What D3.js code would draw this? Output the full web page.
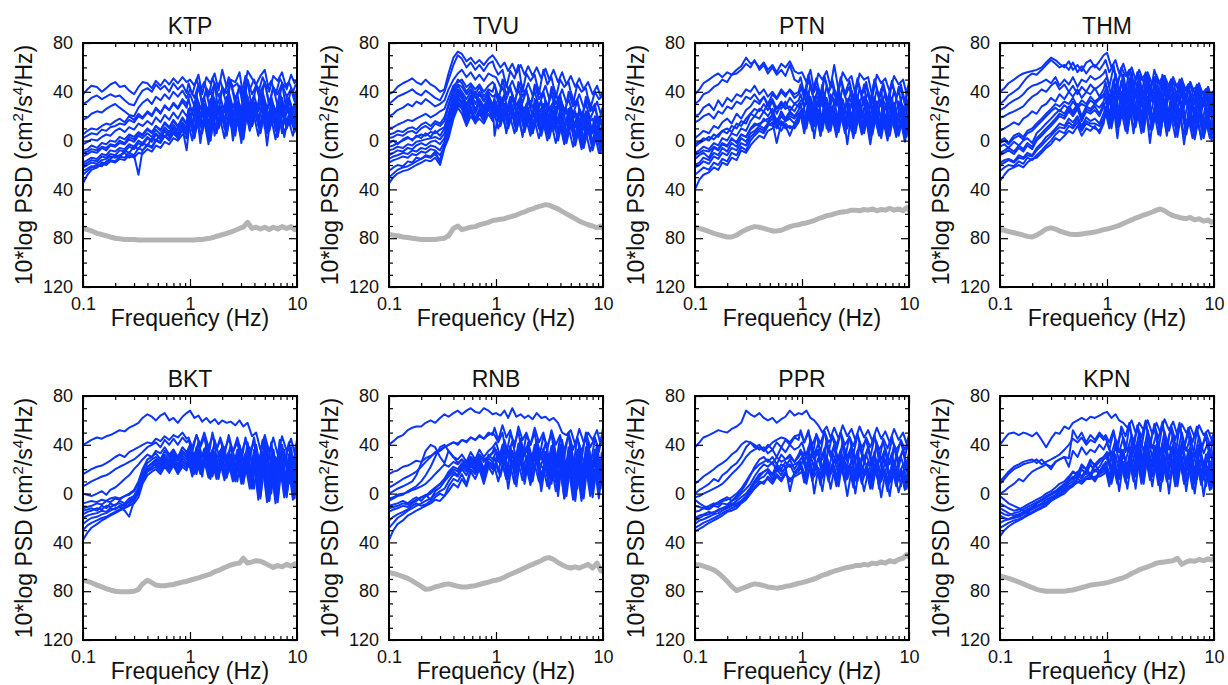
<!DOCTYPE html>
<html><head><meta charset="utf-8">
<script src="https://cdn.jsdelivr.net/npm/d3@7"></script>
<style>body{margin:0;background:#fff}</style>
</head><body>
<svg id="chart" width="1228" height="685"></svg>
<script>
// Frequency grids (Hz): lines alternate between the two sampling grids
const freqHz = [0.1,0.11,0.12,0.135,0.15,0.165,0.18,0.2,0.22,0.245,0.27,0.3,0.33,0.36,0.4,0.44,0.48,0.53,0.58,0.64,0.7,0.77,0.85,0.93,1.0,1.1,1.2,1.3,1.42,1.55,1.7,1.85,2.0,2.2,2.4,2.65,2.9,3.15,3.45,3.8,4.15,4.55,5.0,5.5,6.0,6.6,7.25,8.0,8.8,9.5,10];
const freqHzAlt = [0.1,0.11,0.12,0.135,0.15,0.165,0.18,0.2,0.22,0.245,0.27,0.3,0.33,0.36,0.4,0.44,0.48,0.53,0.58,0.64,0.7,0.77,0.85,0.93,0.97,1.05,1.15,1.25,1.36,1.49,1.62,1.77,1.92,2.1,2.3,2.52,2.77,3.02,3.3,3.62,3.97,4.35,4.77,5.25,5.75,6.3,6.92,7.6,8.4,9.15,9.75];

const stationNames = ["KTP","TVU","PTN","THM","BKT","RNB","PPR","KPN"];

const yTickValues = [80, 40, 0, -40, -80, -120];
const yTickLabels = ["80","40","0","40","80","120"];
const xTickValues = [0.1, 1, 10];
const xTickLabels = ["0.1","1","10"];
const xMinorValues = [0.2,0.3,0.4,0.5,0.6,0.7,0.8,0.9,2,3,4,5,6,7,8,9];
const yMinorValues = [70,60,50,30,20,10,-10,-20,-30,-50,-60,-70,-90,-100,-110];

// ---- KTP ----
const ktpSpectra = [
[38,42,45,44,40,43,46,48,44,45,41,38,44,48,47,43,49,45,50,46,51,47,52,48, 50,45,54,38,52,47,55,41,58,44,50,48,56,36,57,51,46,53,58,40,53,49,56,42,54,47,50],
[30,32,35,37,34,36,38,36,37,33,30,29,36,41,43,40,46,42,45,40,47,42,46,39, 47,38,50,41,48,36,51,43,49,38,52,44,47,37,53,42,50,39,52,43,49,37,51,44,48,40,46],
[17,19,22,24,23,26,28,30,27,24,21,20,27,31,34,30,36,33,38,34,40,36,41,35, 42,35,46,28,43,38,47,22,44,39,48,30,45,37,49,25,46,40,48,29,44,38,47,24,43,36,42],
[5,8,10,9,12,14,13,16,18,15,20,17,22,19,24,21,27,23,28,25,30,26,32,27, 34,22,37,26,35,20,39,28,36,23,40,27,38,21,41,29,37,24,40,26,36,22,39,27,35,25,33],
[-3,-1,1,0,3,5,4,8,10,7,11,9,14,12,16,13,19,15,21,17,23,18,25,20, 27,18,31,6,28,22,34,14,29,24,33,4,30,20,36,12,31,25,33,8,29,21,35,10,28,22,26],
[-8,-7,-4,-6,-2,-3,0,-1,3,1,5,3,7,5,10,7,12,9,14,10,16,11,18,13, 25,13,29,17,27,11,31,19,28,14,33,18,30,12,34,20,31,15,33,17,29,13,32,19,27,16,25],
[-13,-11,-9,-10,-6,-8,-4,-5,-2,-3,1,-1,4,2,6,3,9,5,11,7,13,8,15,10, 22,9,26,14,24,7,28,16,25,10,30,15,27,8,31,17,28,12,30,14,26,10,29,16,24,13,22],
[-18,-16,-14,-15,-11,-12,-8,-9,-6,-7,-3,-5,0,-2,3,0,6,2,9,4,11,5,13,7, 20,12,24,-2,22,15,26,6,23,14,30,0,25,16,29,8,26,17,28,-4,24,12,27,3,22,14,20],
[-22,-20,-18,-19,-16,-15,-13,-14,-12,-10,-14,-12,-28,-8,-4,-6,0,-2,4,1,7,2,10,-8, 18,3,22,9,20,0,24,11,21,5,26,10,23,2,27,13,24,7,26,9,22,4,25,11,20,8,18],
[-35,-28,-24,-22,-19,-20,-17,-18,-15,-16,-12,-14,-10,-11,-7,-9,-4,-6,-1,-3,2,0,5,2, 14,0,18,5,16,-3,20,7,17,2,22,6,19,-2,23,9,20,4,22,6,18,1,21,7,16,4,14],
[-28,-25,-22,-20,-21,-17,-15,-12,-14,-8,-10,-5,-7,-2,-4,2,0,5,3,8,6,10,8,12, 16,2,20,8,18,0,22,10,19,4,24,9,21,1,25,12,22,6,24,8,20,3,23,10,18,7,16],
[-10,-9,-7,-8,-5,-6,-3,-4,0,-2,3,1,6,4,9,6,12,8,15,11,17,12,19,14, 26,12,34,20,30,8,36,24,28,16,38,10,32,22,40,14,30,26,36,6,33,20,38,16,31,24,28],
[-20,-18,-16,-17,-13,-14,-11,-12,-8,-9,-5,-7,-2,-4,2,-1,5,1,8,3,10,4,12,6, 18,30,10,28,14,34,4,26,20,36,12,30,8,38,16,32,22,40,10,34,18,28,6,36,14,30,20],
[-25,-23,-21,-22,-18,-19,-16,-17,-13,-14,-10,-12,-6,-8,-3,-5,1,-1,4,0,6,2,9,4, 22,8,28,16,24,2,30,20,26,10,32,18,28,4,34,22,27,12,32,16,28,8,30,20,25,12,22],
[2,4,6,5,9,8,11,12,14,13,17,15,20,18,23,20,26,22,29,25,31,27,34,30, 38,28,44,32,40,24,46,36,42,30,48,34,44,26,50,38,45,32,48,30,44,28,46,36,42,32,40]
];
const ktpNoise = [-72,-73,-74,-76,-77,-78,-79,-80,-80.5,-81,-81,-81,-81.5,-81.5,-81.5,-81.5,-81.5,-81.5,-81.5,-81.5,-81.5,-81.5,-81.5,-81.5,
-81.5,-81.5,-81,-81,-80.5,-80,-79,-78,-77,-76,-75,-73.5,-72,-71,-67,-72,-71,-72.5,-71,-73,-71,-72.5,-70.5,-72,-70.5,-73,-71];

// ---- TVU ----
const tvuSpectra = [
[38,40,44,47,49,51,48,46,50,46,44,40,42,55, 68,73,71,65,68,63,66,62,67,70, 66,60,64,57,63,55,62,54,61,53,60,51,59,50,58,48,56,46,53,44,51,42,48,38,45,36,40],
[30,33,36,38,40,42,39,37,41,38,35,33,40,50, 62,70,67,60,64,58,62,57,63,65, 60,54,58,44,57,51,62,40,55,49,54,38,58,46,52,35,50,44,48,30,46,40,43,26,40,34,36],
[20,22,25,27,30,28,32,30,34,31,28,30,33,42, 50,55,58,52,56,50,54,49,55,53, 52,44,50,42,49,40,48,39,47,37,46,36,45,34,44,33,42,31,40,29,38,27,35,24,32,22,28],
[10,11,13,15,17,16,18,20,22,19,21,24,26,35, 45,48,50,44,47,42,46,40,45,48, 46,36,44,34,43,32,42,31,41,30,40,28,39,27,38,25,36,24,34,22,32,20,30,18,27,15,24],
[2,3,5,4,7,8,6,10,12,9,14,12,16,28, 40,46,44,38,42,35,40,33,38,28, 40,30,38,16,37,29,36,12,35,27,34,8,33,26,32,6,30,22,28,2,26,19,24,-4,21,14,18],
[-5,-4,-2,0,2,1,3,5,4,7,6,9,11,22, 35,42,38,30,37,25,34,28,36,30, 4,22,33,20,32,18,31,17,30,16,29,14,28,12,27,11,25,9,23,7,21,5,19,2,16,0,13],
[-12,-10,-8,-9,-6,-7,-4,-2,-4,-1,0,-3,2,15, 30,38,35,25,33,22,31,24,33,30, 32,18,30,16,29,14,28,13,27,12,26,10,25,8,24,7,22,5,20,3,18,1,15,-2,12,-5,9],
[-18,-16,-15,-13,-14,-11,-12,-9,-10,-7,-8,-12,-5,8, 25,35,30,20,28,18,26,20,30,22, 28,18,26,6,25,17,24,3,23,16,22,10,21,5,20,14,18,-2,16,10,14,-5,12,6,9,-2,6],
[-25,-22,-20,-21,-17,-18,-14,-15,-12,-13,-9,-18,-3,5, 20,30,26,15,24,14,22,16,26,18, 25,12,23,10,22,8,21,7,20,6,19,4,18,2,17,0,15,-2,13,-4,11,-6,9,-8,6,-10,4],
[-35,-30,-27,-25,-24,-22,-20,-18,-16,-17,-14,-20,-6,2, 18,27,22,12,20,15,18,14,22,16, 22,10,20,8,19,6,18,5,17,4,16,2,15,0,14,-2,13,-3,11,-5,9,-7,7,-9,5,-10,3],
[-2,0,-3,1,3,0,4,2,6,3,8,4,10,20, 38,45,40,34,40,30,38,32,40,36, 38,26,36,24,35,22,34,21,33,20,32,18,31,16,30,15,28,13,26,11,24,9,22,6,19,4,16],
[-8,-7,-5,-6,-3,-4,-1,0,1,2,3,1,6,18, 32,40,36,28,35,24,33,26,35,20, 34,18,30,24,36,12,32,26,28,8,34,22,30,14,27,20,32,6,26,18,22,10,24,2,20,12,18],
[-15,-13,-12,-10,-11,-8,-9,-6,-7,-4,-5,-8,-1,12, 28,36,32,22,30,40,28,22,32,26, 20,36,26,14,38,24,30,10,34,28,22,32,16,28,8,30,20,26,12,24,4,22,14,18,6,16,10],
[5,6,8,7,10,11,9,13,15,12,16,14,19,30, 42,50,47,40,45,38,44,36,42,40, 46,32,50,38,44,28,48,36,42,26,46,34,40,24,44,30,38,20,40,28,34,16,36,24,30,12,26],
[-30,-27,-24,-22,-21,-19,-17,-15,-13,-14,-11,-16,-4,4, 22,32,28,18,26,16,24,18,28,24, 26,14,30,20,24,8,28,18,22,6,26,16,20,4,24,14,18,0,20,12,16,-4,18,8,12,-6,10]
];
const tvuNoise = [-77,-77.5,-78,-79,-79.5,-80,-80.5,-81,-81,-81,-81,-80.5,-80,-78,-72,-70,-73,-72,-71,-70.5,
-69,-68,-67,-65.5,-65,-64.5,-64,-63,-62,-61,-59.5,-58.5,-57,-56,-54.5,-53.5,-52.5,-53,-54.5,-56,
-58,-60,-62,-64,-66,-67.5,-69,-70,-71.5,-70,-72];

// ---- PTN ----
const ptnSpectra = [
[38,42,47,50,53,55,52,56,54,58,61,68,63,65,60,64,58,62,56,63,60,65,57,55, 56,48,58,40,55,50,57,44,62,41,56,49,53,38,55,50,52,36,54,47,51,40,53,46,50,38,48],
[30,33,38,40,44,46,50,48,54,55,58,63,60,66,58,62,55,60,54,58,53,62,50,48, 52,38,54,40,51,36,53,39,50,35,52,38,49,34,51,37,48,33,50,36,47,32,49,35,46,31,44],
[20,22,27,30,25,33,28,35,32,38,36,42,40,45,38,42,36,40,35,42,38,41,35,38, 44,30,46,32,43,28,45,31,42,27,44,30,41,26,43,29,40,25,42,28,39,24,41,27,38,23,36],
[2,5,8,6,12,10,15,18,14,22,18,25,28,33,30,36,28,34,26,32,28,35,30,33, 38,28,40,16,37,30,39,20,36,29,38,12,35,28,37,18,34,27,36,10,33,26,35,15,32,24,30],
[-5,-2,0,3,1,5,8,6,12,10,16,14,22,26,24,30,25,32,22,30,26,28,24,30, 34,18,36,20,33,16,35,19,32,15,34,18,31,14,33,17,30,13,32,16,29,12,31,15,28,11,26],
[-10,-8,-5,-7,-2,-4,2,0,6,4,10,8,16,20,18,24,20,26,15,24,18,22,20,25, 30,12,32,14,29,10,31,13,28,9,30,12,27,8,29,11,26,7,28,10,25,6,27,9,24,5,22],
[-15,-12,-10,-14,-6,-8,-3,-5,2,-2,5,3,10,14,12,18,15,22,12,20,16,18,14,20, 26,14,28,2,25,16,27,8,24,15,26,-3,23,14,25,6,22,13,24,2,21,12,23,4,20,10,18],
[-20,-18,-14,-16,-10,-12,-6,-9,-2,-5,2,-1,6,8,12,10,14,18,10,16,12,4,14,18, 22,6,24,8,21,4,23,7,20,3,22,6,19,2,21,5,18,-3,20,4,17,0,19,3,16,-1,14],
[-28,-25,-22,-24,-18,-20,-15,-17,-10,-12,-5,-8,0,4,8,6,12,15,-2,14,10,12,10,15, 25,10,27,12,24,8,26,11,23,7,25,10,22,6,24,9,21,5,23,8,20,4,22,7,19,3,17],
[-40,-32,-28,-26,-22,-24,-18,-20,-14,-16,-8,-10,-4,0,4,2,8,10,12,8,14,10,12,16, 23,9,25,11,22,7,24,10,21,6,23,9,20,5,22,8,19,4,21,7,18,3,20,6,17,2,15],
[-3,-1,2,0,5,3,8,10,7,14,12,18,22,20,26,24,30,22,28,26,32,24,30,28, 30,42,20,36,28,46,16,38,30,44,22,34,12,40,28,46,20,36,26,42,14,38,24,44,18,34,26],
[-12,-10,-8,-9,-5,-7,-2,-4,1,-1,5,3,9,12,14,16,18,20,16,22,18,24,20,22, 24,10,32,18,28,4,34,20,26,12,36,16,30,6,32,22,27,10,34,14,28,8,30,18,24,12,20],
[-22,-20,-17,-19,-13,-15,-10,-12,-6,-8,-2,-4,3,6,10,8,14,12,18,14,16,20,18,22, 20,34,14,30,22,36,10,28,24,38,16,32,8,30,20,36,12,28,18,34,10,26,16,32,12,24,18],
[15,17,20,22,18,24,22,28,26,32,30,36,34,38,32,36,30,38,34,40,36,42,38,40, 46,34,50,38,44,30,52,40,46,32,50,36,44,28,48,38,45,30,50,34,44,28,46,36,42,30,40]
];
const ptnNoise = [-71,-72,-73,-74.5,-76,-77,-78,-79,-79,-77.5,-75,-73,-71.5,-70.5,-71,-72,-73,-74,-74,-73.5,
-72,-70.5,-69.5,-69,-68,-67.5,-66.5,-65.5,-64,-63,-61.5,-61,-60,-59,-58.5,-58,-57,-57,-57.5,-56.5,
-57,-56,-57.5,-56.5,-57,-55.5,-57,-56,-57.5,-55,-57];

// ---- THM ----
const thmSpectra = [
[40,43,47,50,53,55,56,57,58,60,64,68,66,63,60,65,58,62,57,64,66,60,65,70, 72,60,66,55,63,52,60,50,58,48,56,46,54,45,53,44,52,43,50,41,48,39,46,37,44,35,42],
[30,33,37,40,43,48,52,55,54,58,62,66,63,60,62,58,64,56,61,55,60,62,58,63, 66,56,62,44,60,53,58,40,56,50,55,36,58,47,52,34,50,45,48,30,46,42,44,28,42,37,40],
[19,20,22,24,26,28,32,36,38,42,40,45,48,42,46,40,45,38,44,40,46,42,45,48, 52,36,55,38,54,35,56,37,53,34,55,36,52,33,53,35,50,32,51,33,48,30,47,29,44,27,40],
[8,10,12,15,13,18,20,24,22,28,30,35,32,38,34,40,36,42,35,40,38,43,36,42, 48,30,50,32,49,29,51,31,48,28,50,30,47,27,48,29,45,26,46,27,43,24,42,23,40,21,36],
[0,2,-2,4,6,3,8,10,14,18,22,26,30,28,32,30,35,28,33,30,36,32,35,38, 44,28,46,12,45,30,47,18,44,28,46,10,43,27,44,14,41,26,42,6,39,24,38,9,36,20,32],
[-5,-3,-6,-1,-4,0,2,-2,6,10,14,18,22,25,22,28,24,30,20,28,26,30,27,32, 38,18,40,20,39,17,41,19,38,16,40,18,37,15,38,17,35,14,36,15,33,12,32,11,30,9,26],
[-12,-10,-8,-11,-6,-9,-4,-7,0,4,8,12,16,20,18,24,20,26,16,24,22,25,20,28, 34,14,36,16,35,12,37,15,34,11,36,13,33,10,34,12,31,8,32,10,29,6,28,5,26,3,22],
[-18,-16,-15,-17,-12,-14,-10,-12,-6,-2,3,6,10,14,12,18,15,20,12,19,16,18,14,22, 28,15,30,2,29,16,31,6,28,14,30,-2,27,13,28,4,25,12,26,-3,23,10,22,1,20,8,16],
[-25,-22,-20,-21,-17,-19,-14,-16,-12,-8,-4,0,5,8,6,12,10,15,8,14,12,10,8,16, 26,10,28,12,27,8,29,11,26,7,28,9,25,6,26,8,23,3,24,5,21,1,20,2,18,0,16],
[-33,-28,-24,-22,-20,-22,-18,-15,-14,-10,-6,-3,2,0,4,8,6,12,4,10,8,12,6,14, 24,10,26,11,25,8,27,10,24,6,26,9,23,5,24,7,21,3,22,5,19,2,18,3,16,2,14],
[-2,0,-3,2,4,1,6,8,12,16,20,24,27,24,29,26,32,27,30,28,33,30,34,36, 40,26,46,34,42,20,48,36,44,24,50,32,44,18,46,34,40,22,44,30,38,16,40,28,36,20,34],
[-10,-8,-6,-9,-4,-7,-2,-5,2,6,10,14,18,22,20,26,22,28,18,26,24,28,22,30, 22,38,30,14,40,28,20,42,32,12,38,26,18,40,30,10,36,24,16,38,26,8,34,22,14,30,20],
[-20,-18,-16,-18,-14,-15,-12,-13,-8,-4,0,4,8,11,10,15,12,18,10,16,14,14,12,18, 24,12,30,18,26,6,32,20,28,10,34,16,28,4,30,18,26,8,30,14,24,2,26,16,22,6,20],
[25,27,30,33,35,38,42,45,46,48,50,47,52,45,50,46,52,44,50,48,53,50,52,55, 58,44,60,48,56,40,58,46,54,38,56,44,52,36,54,42,50,34,50,40,46,32,46,38,42,30,40]
];
const thmNoise = [-73,-73.5,-74.5,-75.5,-76.5,-77.5,-78.5,-79,-77.5,-75,-72.5,-71.5,-72.5,-74,-75.5,-76.5,-77,-77,-76.5,-76,
-75.5,-75,-74,-73,-72.5,-71.5,-70.5,-69.5,-68,-66.5,-65,-63.5,-62.5,-61,-60,-58.5,-57,-56,-57.5,-60,
-61.5,-62.5,-63.5,-64,-63,-65,-64,-66,-65,-67,-66];

// ---- BKT ----
const bktSpectra = [
[40,42,44,46,45,47,48,50,52,51,54,56,58,62,65,63,60,64,66,60,62,58,63,66, 68,62,64,59,62,58,61,57,60,58,59,56,60,55,58,47,50,36,48,34,46,32,47,35,45,33,44],
[16,18,20,22,23,25,27,30,32,30,34,36,38,40,42,41,45,43,47,44,48,46,50,45, 46,38,48,40,50,38,47,36,46,35,45,34,46,33,44,30,46,20,44,18,42,16,44,20,42,18,40],
[0,-1,-2,0,2,-1,3,5,8,12,15,20,24,28,32,30,35,33,38,32,36,30,38,34, 40,30,42,20,41,31,40,16,39,29,38,14,40,26,37,10,40,20,38,-2,36,16,38,0,36,14,34],
[-12,-11,-10,-8,-9,-6,-7,-4,-5,-2,-1,2,8,18,25,28,30,26,32,28,34,27,33,30, 36,24,38,26,37,23,36,22,35,21,34,20,36,18,33,14,36,4,34,2,32,0,34,6,32,4,30],
[-14,-13,-12,-14,-10,-12,-8,-10,-6,-8,-4,-2,5,15,22,25,28,24,30,26,32,24,31,28, 34,24,36,14,35,25,34,12,33,22,32,10,34,20,31,4,34,14,32,-6,30,12,32,-3,30,10,28],
[-20,-18,-17,-16,-14,-15,-12,-13,-10,-14,-19,-6,2,12,20,22,25,20,27,22,28,20,27,24, 30,18,32,20,31,17,30,16,29,15,28,14,30,12,27,8,30,-2,28,-4,26,-5,28,0,26,-2,24],
[-30,-26,-24,-22,-20,-19,-17,-15,-13,-11,-9,-5,0,10,18,20,22,18,24,19,25,18,24,21, 28,16,30,18,29,15,28,14,27,13,26,12,28,10,25,6,28,-4,26,-6,24,-7,26,-2,24,-4,22],
[-38,-32,-28,-25,-22,-20,-18,-16,-14,-12,-10,-8,-3,8,15,18,20,16,22,17,23,16,22,19, 26,14,28,16,27,13,26,12,25,11,24,10,26,8,23,4,26,-5,24,-7,22,-8,24,-3,22,-5,20],
[-8,-7,-6,-7,-5,-6,-4,-3,-4,-2,0,3,10,20,28,30,33,28,35,30,36,28,35,32, 38,26,42,30,36,20,44,32,38,24,40,28,34,16,42,24,38,10,44,18,36,8,40,22,38,14,34],
[-17,-15,-14,-12,-13,-10,-11,-9,-8,-10,-6,-2,4,14,22,24,27,22,29,24,30,22,29,26, 22,34,16,30,24,36,14,32,26,38,18,30,10,34,22,38,4,32,16,40,0,30,20,36,8,30,24],
[-25,-22,-20,-19,-17,-16,-14,-12,-11,-9,-7,-4,2,12,18,22,24,20,26,21,27,20,26,23, 30,18,34,24,28,12,32,22,30,14,28,20,32,8,30,16,24,-2,30,10,26,-4,28,12,24,6,26],
[6,8,10,12,14,15,17,20,22,24,26,28,31,34,38,40,42,38,44,40,45,40,46,42, 44,34,48,38,46,30,50,36,44,32,48,34,42,26,46,30,44,14,42,22,40,10,44,24,40,18,38]
];
const bktNoise = [-71,-72,-73,-75,-76.5,-78,-79,-80,-80.5,-80.5,-80.5,-80,-78.5,-74,-71,-73,-75,-75.5,-75.5,-75,
-74.5,-73.5,-72.5,-72,-71,-70,-69,-68,-67,-66,-64,-63,-61.5,-60,-58.5,-57.5,-57,-53,-57,-56,
-55,-55.5,-57,-59,-60.5,-59,-60,-58,-59.5,-57.5,-58];

// ---- RNB ----
const rnbSpectra = [
[40,43,46,48,52,54,55,55,58,60,58,62,65,63,66,68,65,68,70,67,66,70,68,65, 66,64,68,62,70,63,65,62,64,61,66,62,63,60,62,58,50,48,52,40,53,42,50,44,52,40,54],
[16,18,19,22,23,25,27,26,29,31,33,35,38,40,42,41,44,43,46,44,47,45,48,50, 48,42,50,32,49,41,51,30,48,40,50,28,47,39,49,24,46,36,48,20,46,34,47,22,45,36,46],
[0,2,4,6,8,10,15,25,35,40,38,30,25,35,30,28,32,26,34,28,36,30,35,38, 42,30,44,32,43,28,45,31,42,27,44,30,41,26,43,22,44,18,42,16,40,15,42,20,40,18,38],
[-6,-4,-2,-1,2,4,6,10,15,22,30,38,40,35,30,25,28,22,30,25,32,26,30,34, 38,26,40,28,39,24,41,27,38,23,40,26,37,22,39,18,40,12,38,10,36,8,38,14,36,12,34],
[-10,-9,-8,-6,-8,-5,-3,-6,-2,2,5,8,12,18,22,20,25,22,28,24,30,20,32,28, 34,24,36,12,35,25,37,14,34,23,36,8,33,22,35,2,36,14,34,-4,32,12,34,0,32,12,30],
[-15,-13,-12,-10,-11,-8,-6,-3,-1,-5,2,5,10,14,18,15,22,18,25,20,28,15,26,24, 30,18,32,20,31,16,33,19,30,15,32,18,29,14,31,10,32,2,30,0,28,-2,30,4,28,2,26],
[-22,-19,-17,-15,-13,-10,-8,-10,-9,-6,-3,0,-2,6,12,10,16,8,20,16,22,12,24,20, 26,16,28,4,27,17,29,8,26,15,28,2,25,14,27,-2,28,10,26,-6,24,8,26,-3,24,8,22],
[-38,-30,-25,-22,-18,-16,-14,-12,-10,-8,-5,-6,-2,2,8,5,12,6,18,12,20,8,22,16, 22,10,24,12,23,8,25,11,22,7,24,10,21,6,23,2,24,-4,22,-5,20,-6,22,-2,20,-4,18],
[-4,-3,-1,0,1,3,4,6,8,12,16,20,24,22,26,24,28,25,30,27,32,28,30,33, 36,24,40,30,34,18,42,32,38,22,40,28,34,16,38,26,42,10,36,20,34,6,38,22,34,16,32],
[-12,-11,-10,-8,-9,-7,-5,-3,-2,0,4,8,12,16,20,18,24,20,27,22,28,18,29,26, 20,34,26,12,36,28,18,38,30,10,34,26,20,36,8,32,22,-4,30,16,4,32,20,8,30,18,26],
[-28,-24,-20,-17,-14,-12,-10,-8,-6,-4,-1,2,4,10,16,14,20,15,23,18,25,16,26,22, 24,14,30,18,26,6,32,20,28,10,30,16,24,4,28,12,30,-2,26,8,24,-4,28,10,24,4,22],
[5,7,9,12,14,16,18,22,26,30,34,36,38,40,42,40,44,42,46,44,48,45,50,48, 54,44,56,46,52,38,55,44,50,40,54,42,50,36,52,40,48,30,50,36,46,28,50,38,46,34,48]
];
const rnbNoise = [-64.5,-65.5,-66.5,-68,-69.5,-71.5,-73.5,-76,-78.5,-78,-76.5,-75.5,-74.5,-74,-75,-76,-76.5,-76.5,-76,-75.5,
-74.5,-73.5,-72.5,-71.5,-71,-70,-68.5,-67,-65.5,-64,-62.5,-61,-59.5,-58,-56.5,-55,-53,-52.5,-54,-56.5,
-58.5,-60,-61,-60,-61,-59.5,-58,-61,-57,-63,-64];

// ---- PPR ----
const pprSpectra = [
[38,42,46,48,50,52,51,50,53,55,58,68,65,63,66,62,60,62,58,61,63,68,64,66, 65,68,62,60,56,50,55,46,54,45,56,47,53,44,55,46,52,43,54,45,51,42,53,44,50,41,48],
[8,11,14,17,20,23,25,28,32,35,40,43,42,38,40,35,38,42,44,46,45,42,47,48, 50,42,52,30,49,41,51,34,48,40,50,28,47,39,49,32,46,38,48,26,45,37,47,30,44,36,42],
[0,3,5,8,12,10,15,18,22,25,30,38,42,40,36,38,33,36,30,38,34,40,36,38, 42,30,44,32,41,28,43,31,40,27,42,30,39,26,41,29,38,25,40,28,37,24,39,27,36,23,34],
[-5,-8,-10,-12,-9,-7,-5,-3,-6,-2,2,8,15,22,28,30,26,30,24,32,28,30,26,32, 36,26,38,14,35,27,37,18,34,25,36,10,33,24,35,16,32,23,34,6,31,22,33,12,30,20,28],
[-15,-14,-12,-13,-10,-11,-8,-9,-6,-4,0,4,8,14,20,24,22,26,18,24,22,28,20,26, 30,18,32,20,29,16,31,19,28,15,30,18,27,14,29,17,26,13,28,16,25,12,27,15,24,11,22],
[-20,-18,-17,-15,-16,-13,-12,-10,-8,-10,-6,-2,4,10,16,18,20,15,22,18,20,24,16,22, 26,12,28,14,25,10,27,13,24,9,26,12,23,8,25,11,22,7,24,10,21,6,23,9,20,5,18],
[-25,-22,-21,-19,-17,-16,-14,-12,-10,-8,-6,-3,2,8,12,14,18,12,20,15,22,2,18,20, 22,12,24,0,21,13,23,4,20,12,22,-2,19,11,21,2,18,10,20,-3,17,9,19,1,16,8,14],
[-31,-29,-27,-24,-22,-20,-18,-15,-14,-12,-8,-5,0,5,10,8,14,10,16,12,18,10,16,18, 24,9,26,11,23,7,25,10,22,6,24,9,21,5,23,8,20,4,22,7,19,2,21,6,18,3,16],
[-10,-11,-12,-10,-8,-9,-6,-5,-3,0,4,10,16,20,24,26,28,24,30,26,28,32,26,30, 34,22,40,28,36,16,42,30,38,20,40,26,36,12,40,24,38,18,42,22,36,10,40,24,36,18,32],
[-22,-20,-18,-17,-15,-14,-12,-11,-9,-6,-3,0,5,10,14,18,20,16,24,20,26,22,24,26, 20,34,26,10,36,28,16,38,30,8,34,26,18,36,10,30,24,14,34,4,28,22,12,32,6,26,20],
[-28,-26,-24,-22,-20,-18,-16,-14,-12,-10,-7,-4,0,4,8,10,12,8,14,10,16,12,14,16, 18,8,24,14,20,2,26,16,22,6,28,12,22,0,24,14,20,4,26,10,20,-2,22,12,18,4,16],
[-3,-2,0,2,4,6,8,12,16,20,24,30,34,36,38,35,40,36,42,38,44,40,46,44, 52,42,50,40,48,34,51,42,46,36,50,40,46,32,48,38,44,30,46,36,42,28,44,36,42,30,40]
];
const pprNoise = [-58,-58.5,-59.5,-61,-62.5,-65,-68,-72,-76,-79.5,-78,-76.5,-75,-74,-74.5,-75.5,-76.5,-77,-77.5,-77,
-76,-75.5,-74.5,-73.5,-73,-72,-71,-70,-68.5,-67,-66,-64.5,-63.5,-62.5,-61.5,-60.5,-60,-59,-59,-58,
-58.5,-57,-57.5,-56,-57,-55,-56,-54,-53,-50,-52];

// ---- KPN ----
const kpnSpectra = [
[40,45,49,50,48,50,49,47,50,44,38,45,50,49,55,53,58,60,62,60,63,62,64,66, 67,62,65,60,58,54,60,50,58,52,60,49,58,50,61,52,59,48,57,50,55,46,56,48,52,44,50],
[10,14,18,22,24,26,27,28,25,28,24,22,26,28,30,29,52,45,50,42,48,44,50,46, 48,42,52,34,55,47,58,36,56,46,60,38,57,45,59,34,56,44,58,36,54,42,55,34,50,40,46],
[0,2,5,8,12,10,14,18,20,22,24,20,26,28,30,22,35,30,38,32,36,34,40,36, 42,32,44,34,46,35,48,36,50,34,52,37,49,33,51,36,48,32,50,35,46,30,47,33,42,29,38],
[-2,-5,-8,-10,-12,-14,-16,-12,-8,-5,-3,0,2,5,8,12,18,15,22,20,26,24,28,30, 32,24,34,14,36,27,38,16,40,26,42,18,39,25,41,12,38,24,40,16,36,22,37,10,32,22,30],
[-12,-14,-16,-18,-17,-15,-13,-11,-8,-6,-3,-1,1,3,6,10,14,12,20,16,24,18,22,28, 30,16,32,18,34,19,36,20,38,18,40,21,37,17,39,20,36,16,38,19,34,14,35,17,30,13,28],
[-18,-20,-21,-19,-18,-16,-14,-12,-10,-8,-5,-3,-1,2,4,8,10,15,12,18,14,20,16,22, 26,12,28,14,30,15,32,16,34,14,36,17,33,13,35,16,32,12,34,15,30,10,31,13,26,9,24],
[-24,-22,-21,-20,-19,-17,-15,-13,-11,-9,-7,-4,-2,0,3,6,8,12,10,14,16,12,18,20, 22,12,24,2,26,13,28,4,30,12,32,6,29,11,31,0,28,10,30,2,26,8,27,-2,22,8,20],
[-35,-30,-27,-24,-22,-20,-18,-16,-14,-12,-10,-6,-4,-2,0,4,6,10,8,12,14,10,16,18, 20,6,22,8,24,9,26,10,28,8,30,11,27,7,29,10,26,6,28,9,24,4,25,7,20,3,18],
[-8,-10,-12,-14,-13,-11,-9,-7,-5,-3,0,2,5,8,10,14,18,16,24,20,28,22,26,30, 34,20,40,26,36,16,42,28,44,22,46,30,40,18,44,28,40,14,42,26,38,12,40,24,34,16,32],
[-15,-17,-18,-16,-15,-13,-11,-9,-7,-5,-2,0,2,4,6,10,12,18,14,20,16,24,18,24, 18,34,24,12,36,26,20,40,30,14,42,28,22,38,10,32,26,16,36,8,30,24,12,32,6,26,22],
[-28,-26,-24,-22,-21,-19,-17,-15,-13,-11,-8,-6,-3,-1,2,4,7,9,10,12,12,14,14,16, 18,8,22,12,24,4,28,14,30,8,32,14,28,2,30,12,26,6,30,10,24,0,26,12,20,4,18],
[8,12,16,20,22,24,25,26,28,24,26,28,30,32,36,40,45,42,46,40,44,42,48,44, 46,36,50,40,52,34,56,42,54,38,58,42,54,36,56,40,54,30,56,38,50,28,52,38,46,30,44]
];
const kpnNoise = [-67.5,-68.5,-69.5,-71,-72.5,-74,-75.5,-77,-78.5,-79.5,-80,-80,-80,-80,-80,-79.5,-79,-78,-77,-76,
-75,-74.5,-74,-73.5,-73,-72,-71,-70,-69,-67.5,-65.5,-64,-62.5,-61,-60,-58.5,-57,-56.5,-56,-55.5,
-55,-53,-58,-56,-55,-55.5,-54,-55,-53.5,-54.5,-53];

const spectraByStation = [ktpSpectra, tvuSpectra, ptnSpectra, thmSpectra, bktSpectra, rnbSpectra, pprSpectra, kpnSpectra];
const noiseByStation = [ktpNoise, tvuNoise, ptnNoise, thmNoise, bktNoise, rnbNoise, pprNoise, kpnNoise];

// ---- Layout ----
const svg = d3.select("#chart");
const FONT = "'Liberation Sans', Arial, Helvetica, sans-serif";
const colLeft = [83, 389, 695, 1000];
const rowTop = [43, 396];
const pw = 214, ph = 244;
const BLUE = "#0a35ff", GRAY = "#b4b4b4";

stationNames.forEach((name, i) => {
  const col = i % 4, row = Math.floor(i / 4);
  const x0 = colLeft[col], y0 = rowTop[row];
  const g = svg.append("g").attr("transform", `translate(${x0},${y0})`);
  const x = d3.scaleLog().domain([0.1, 10]).range([0, pw]);
  const y = d3.scaleLinear().domain([-120, 80]).range([ph, 0]);

  const clipId = "clip" + i;
  g.append("clipPath").attr("id", clipId).append("rect").attr("width", pw).attr("height", ph);
  const plot = g.append("g").attr("clip-path", `url(#${clipId})`);

  const makeLine = (grid) => d3.line()
    .defined((d, j) => j < grid.length && d != null)
    .x((d, j) => x(grid[j]))
    .y(d => y(d));
  const lineA = makeLine(freqHz), lineB = makeLine(freqHzAlt);

  plot.selectAll("path.spec").data(spectraByStation[i]).enter().append("path")
    .attr("class", "spec")
    .attr("d", (d, k) => (k % 2 ? lineB : lineA)(d))
    .attr("fill", "none").attr("stroke", BLUE).attr("stroke-width", 2)
    .attr("stroke-linejoin", "round");

  plot.append("path").attr("d", lineA(noiseByStation[i]))
    .attr("fill", "none").attr("stroke", GRAY).attr("stroke-width", 5)
    .attr("stroke-linejoin", "round").attr("stroke-linecap", "round");

  const styleAxis = (sel) => {
    sel.select(".domain").remove();
    sel.selectAll("line").attr("stroke", "#000").attr("stroke-width", 1.2);
    sel.selectAll("text").attr("font-family", FONT).attr("font-size", 18).attr("fill", "#111");
  };
  g.append("g").call(d3.axisLeft(y).tickValues(yTickValues).tickFormat((d, k) => yTickLabels[k]).tickSize(-8).tickPadding(10)).call(styleAxis);
  g.append("g").call(d3.axisLeft(y).tickValues(yMinorValues).tickFormat("").tickSize(-4)).call(styleAxis);
  g.append("g").attr("transform", `translate(${pw},0)`).call(d3.axisRight(y).tickValues(yTickValues).tickFormat("").tickSize(-8)).call(styleAxis);
  g.append("g").attr("transform", `translate(${pw},0)`).call(d3.axisRight(y).tickValues(yMinorValues).tickFormat("").tickSize(-4)).call(styleAxis);
  g.append("g").attr("transform", `translate(0,${ph})`).call(d3.axisBottom(x).tickValues(xTickValues).tickFormat((d, k) => xTickLabels[k]).tickSize(-8).tickPadding(10)).call(styleAxis);
  g.append("g").attr("transform", `translate(0,${ph})`).call(d3.axisBottom(x).tickValues(xMinorValues).tickFormat("").tickSize(-4)).call(styleAxis);
  g.append("g").call(d3.axisTop(x).tickValues(xTickValues).tickFormat("").tickSize(-8)).call(styleAxis);
  g.append("g").call(d3.axisTop(x).tickValues(xMinorValues).tickFormat("").tickSize(-4)).call(styleAxis);

  g.append("rect").attr("width", pw).attr("height", ph)
    .attr("fill", "none").attr("stroke", "#000").attr("stroke-width", 2);

  g.append("text").attr("x", pw / 2).attr("y", -9).attr("text-anchor", "middle")
    .attr("font-family", FONT).attr("font-size", 23).attr("fill", "#111").text(name);

  g.append("text").attr("x", pw / 2).attr("y", ph + 39).attr("text-anchor", "middle")
    .attr("font-family", FONT).attr("font-size", 23).attr("fill", "#111").text("Frequency (Hz)");

  const yl = g.append("text").attr("transform", `translate(-51,${ph / 2}) rotate(-90)`)
    .attr("text-anchor", "middle").attr("font-family", FONT).attr("font-size", 23).attr("fill", "#111");
  yl.append("tspan").text("10*log PSD (cm");
  yl.append("tspan").attr("font-size", 15).attr("dy", -9).text("2");
  yl.append("tspan").attr("dy", 9).text("/s");
  yl.append("tspan").attr("font-size", 15).attr("dy", -9).text("4");
  yl.append("tspan").attr("dy", 9).text("/Hz)");
});
</script>
</body></html>
